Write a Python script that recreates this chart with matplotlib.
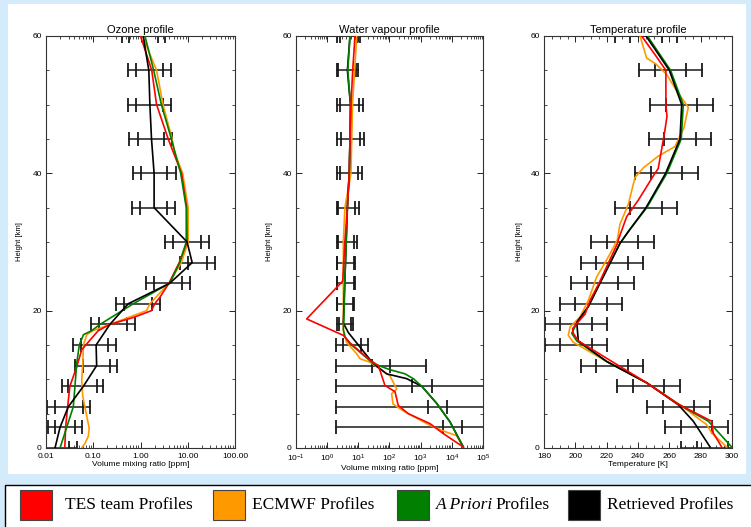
import matplotlib
matplotlib.use("Agg")
import matplotlib.pyplot as plt
from matplotlib.patches import Rectangle
from matplotlib.ticker import MultipleLocator, LogLocator, NullFormatter

plt.rcParams['font.family'] = ['Liberation Sans', 'DejaVu Sans']
plt.rcParams['mathtext.fontset'] = 'custom'
plt.rcParams['mathtext.rm'] = 'Liberation Sans'

# ---------------- ozone profile [ppm] ----------------
oz_h_tes = [0, 3, 6, 9, 11.8, 14.3, 15.7, 17.1, 18, 19, 20, 21, 22, 24, 27, 30, 35, 40, 45, 50, 55, 60]
oz_tes = [0.025, 0.026, 0.0287, 0.032, 0.0446, 0.057, 0.085, 0.128, 0.226, 0.7, 1.7, 2.0, 2.6, 4.0,
          6.6, 9.7, 9.5, 7.4, 3.86, 2.19, 1.73, 1.0]
oz_h_ecmwf = [0, 0.7, 1.7, 2.9, 4.6, 7.5, 9.9, 12.3, 15, 16.5, 17.1, 18, 20, 21, 24, 27, 30, 35, 40, 43, 45,
              50, 55, 60]
oz_ecmwf = [0.057, 0.067, 0.0785, 0.082, 0.073, 0.060, 0.057, 0.060, 0.062, 0.073, 0.10, 0.225, 1.34, 1.58,
            4.0, 7.3, 10.2, 10.2, 7.8, 5.3, 4.67, 3.0, 2.19, 1.1]
oz_h_apriori = [0, 3, 6, 9, 12.3, 15, 16.5, 17.1, 18, 21, 24, 27, 30, 35, 40, 45, 50, 55, 60]
oz_apriori = [0.0198, 0.0274, 0.0378, 0.041, 0.0446, 0.0507, 0.062, 0.093, 0.139, 0.70, 4.17, 6.75, 9.3,
              9.3, 7.1, 4.5, 2.77, 1.9, 1.24]
oz_h_ret = [0, 3, 6, 9, 12, 15, 18, 21, 24, 27, 30, 35, 40, 45, 50, 55, 60]
oz_ret = [0.0155, 0.0198, 0.0296, 0.062, 0.118, 0.115, 0.225, 0.548, 4.17, 12.4, 9.69, 1.94, 1.94, 1.71,
          1.58, 1.50, 1.14]
# error bars: outer low, inner low, inner high, outer high
oz_bar_h = [0, 3, 6, 9, 12, 15, 18, 21, 24, 27, 30, 35, 40, 45, 50, 55, 60]
oz_bar_lo2 = [0.004, 0.0108, 0.0103, 0.0215, 0.041, 0.0378, 0.0893, 0.296, 1.30, 7.0, 3.37, 0.646, 0.678,
              0.577, 0.531, 0.531, 0.40]
oz_bar_lo1 = [0.0075, 0.0155, 0.0155, 0.0296, 0.060, 0.054, 0.134, 0.445, 1.91, 10.2, 4.90, 0.968, 1.02,
              0.865, 0.796, 0.796, 0.58]
oz_bar_hi1 = [0.030, 0.041, 0.0616, 0.118, 0.226, 0.208, 0.506, 1.76, 7.59, 25.6, 19.4, 3.72, 3.72, 3.11,
              3.01, 3.01, 2.29]
oz_bar_hi2 = [0.045, 0.057, 0.085, 0.164, 0.324, 0.30, 0.759, 2.65, 11.0, 38.4, 28.2, 5.49, 5.57, 4.67,
              4.37, 4.37, 3.37]

# ---------------- water vapour profile [ppm] ----------------
wv_h_tes = [0.15, 2.1, 3.55, 5.0, 6.2, 8.2, 9.1, 12.0, 12.8, 15.3, 16.4, 18.8, 24.3, 30, 35, 40, 50, 55, 60]
wv_tes = [23300, 5320, 1990, 400, 191, 150, 71.6, 43.8, 23.6, 5.4, 3.3, 0.22, 3.15, 3.7, 4.45, 5.1, 5.8,
          6.6, 7.8]
wv_h_ecmwf = [0.15, 1.8, 2.3, 3.3, 5.4, 6.4, 7.9, 8.6, 10.5, 12.5, 13.0, 13.7, 15.4, 17.2, 20, 24, 30, 35,
              40, 50, 60]
wv_ecmwf = [23300, 14300, 6840, 1990, 277, 130, 117, 170, 104, 23.6, 11.3, 8.9, 4.2, 3.3, 3.3, 3.3, 3.3,
            3.7, 5.8, 6.5, 8.9]
wv_h_apriori = [0.15, 3.8, 6.5, 9.0, 10.1, 10.8, 11.4, 12.3, 15.2, 16.2, 17.2, 20, 24.5, 35, 40, 45, 50,
                55, 60]
wv_apriori = [23300, 8730, 3270, 1080, 581, 314, 104, 30, 5.4, 3.7, 3.3, 3.5, 3.7, 4.45, 5.1, 5.4, 5.6,
              4.6, 5.4]
wv_h_ret = [0.15, 3.8, 6.5, 9.0, 10.1, 10.8, 12.3, 16.8, 18.2, 24.5, 35, 40, 45, 50, 55, 60]
wv_ret = [23300, 8730, 3270, 1080, 355, 81, 30, 4.8, 3.3, 3.7, 4.45, 5.1, 5.4, 5.6, 4.45, 5.4]
wv_bar_h = [3, 6, 9, 12, 15, 18, 21, 24, 27, 30, 35, 40, 45, 50, 55, 60]
wv_bar_lo2 = [1.92, 1.92, 1.92, 1.92, 1.92, 2.0, 2.0, 2.0, 2.0, 2.0, 2.0, 2.0, 2.0, 2.0, 2.0, 2.0]
wv_bar_lo1 = [5320, 1758, 515, 26.8, 3.15, 2.4, 2.1, 2.1, 2.1, 2.3, 2.3, 2.6, 2.7, 2.6, 2.3, 2.5]
wv_bar_hi1 = [20700, 6839, 2259, 104, 11.9, 5.8, 6.5, 7.0, 7.0, 7.0, 7.8, 10.0, 11.3, 10.7, 8.4, 8.9]
wv_bar_hi2 = [2e5, 2e5, 2e5, 1482, 20.9, 6.5, 7.4, 7.8, 7.8, 8.9, 10.7, 12.8, 15.2, 14.4, 10.0, 11.3]

# ---------------- temperature profile [K] ----------------
t_h_tes = [0.15, 2.2, 3.9, 6.5, 9.5, 15.6, 16.7, 17.4, 18.1, 19.5, 21.5, 24, 26.4, 29.8, 30.3, 33.7, 36.1,
           40, 40.7, 44.3, 46.3, 48.3, 50, 55, 57.3, 60]
t_tes = [293.4, 288, 287, 264.7, 245.5, 201.9, 198.7, 198.3, 200.9, 206.2, 209.4, 215.1, 220, 226.9, 227.4,
         232.8, 240.2, 250.8, 252.9, 255.7, 257.2, 258.5, 257.8, 257.8, 250.8, 242.3]
t_h_ecmwf = [0.15, 2.2, 3.4, 6.3, 9.5, 12.6, 15.4, 16.4, 17.6, 19.1, 21.5, 24.9, 27.8, 30.3, 32.6, 35.5,
             39.4, 40.8, 42.5, 43.9, 46.6, 49.6, 52.0, 54.4, 55.9, 56.8, 60]
t_ecmwf = [296.6, 287, 283.8, 266.8, 245.5, 220, 198.7, 195.5, 196.6, 203, 208.3, 213.6, 221, 226.8, 228.5,
           233.8, 238.1, 243.4, 252.9, 263.6, 269.3, 272.1, 264.7, 258.3, 251.5, 245.5, 241.3]
t_h_apriori = [0.15, 3.9, 6.3, 9.5, 12.6, 15.6, 16.7, 18.3, 20.6, 24, 26.9, 29.8, 31.7, 35, 40, 45, 50, 55,
               60]
t_apriori = [299.8, 284.9, 266.2, 245.5, 220, 200.9, 197.7, 201.2, 208.3, 215.7, 222.1, 228.5, 234.4,
             245.6, 258.4, 267.6, 268.9, 260.8, 246]
t_h_ret = [0.15, 3.9, 6.3, 9.5, 12.6, 15.6, 18.3, 20.6, 24, 26.9, 29.8, 31.7, 35, 40, 45, 50, 55, 60]
t_ret = [286, 275.3, 265.7, 245.5, 220, 201.9, 200.9, 208.3, 215.7, 222.1, 228.5, 234.4, 245.1, 257.6,
         266.8, 267.9, 260, 245.1]
t_bar_h = [0, 3, 6, 9, 12, 15, 18, 21, 24, 27, 30, 35, 40, 45, 50, 55, 60]
t_bar_c = [287.7, 277.4, 265.7, 246.6, 223.4, 200.5, 200.4, 210, 217.2, 223.4, 230, 245.1, 258.3, 266.8,
           267.9, 260.6, 245]
t_bar_in = 10
t_bar_out = 20

RED, ORANGE, GREEN, BLACK = '#ff0000', '#ff9900', '#007f00', '#000000'
legend_names = ['TES team Profiles', 'ECMWF Profiles', 'A Priori Profiles', 'Retrieved Profiles']

W, H = 751, 527
fig = plt.figure(figsize=(W / 100, H / 100), dpi=100)
fig.patch.set_facecolor('#d4ebfc')


def px_rect(x0, y0, x1, y1, **kw):
    # rectangle given in image pixels (origin top left)
    r = Rectangle((x0 / W, 1 - y1 / H), (x1 - x0) / W, (y1 - y0) / H, transform=fig.transFigure, **kw)
    fig.patches.append(r)


px_rect(8, 4, 746, 474, facecolor='white', edgecolor='none', zorder=-5)
px_rect(5, 485, 760, 540, facecolor='white', edgecolor='black', lw=1.0, zorder=-5)


def make_ax(x0, x1):
    return fig.add_axes([x0 / W, 1 - 448 / H, (x1 - x0) / W, 412 / H])


def draw_bars(ax, hs, lo2, lo1, hi1, hi2):
    for h, a, b, c, d in zip(hs, lo2, lo1, hi1, hi2):
        ax.plot([a, d], [h, h], color='#1a1a1a', lw=1.1, zorder=2)
        ax.plot([a, b, c, d], [h] * 4, ls='none', marker='|', ms=10, mew=1.3, color='#1a1a1a', zorder=2)


def style(ax, title, xlabel, ylab_x):
    ax.set_ylim(0, 60)
    ax.set_yticks([0, 20, 40, 60])
    ax.yaxis.set_minor_locator(MultipleLocator(5))
    ax.tick_params(which='both', direction='in', top=True, right=True, labelsize=6)
    ax.tick_params(axis='x', which='both', pad=3.5)
    ax.tick_params(axis='y', which='both', pad=3)
    ax.tick_params(which='major', length=4, width=0.6)
    ax.tick_params(which='minor', length=2, width=0.5)
    ax.set_title(title, fontsize=8, pad=2)
    ax.set_xlabel(xlabel, fontsize=6, labelpad=0.5)
    ax.set_ylabel('Height [km]', fontsize=5.5)
    ax.yaxis.set_label_coords(ylab_x, 0.5)
    for s in ax.spines.values():
        s.set_linewidth(0.8)
        s.set_color('#333333')


def draw_profiles(ax, data):
    for h, v, c in data:
        ax.plot(v, h, color=c, lw=1.2, zorder=3)


# ozone
ax1 = make_ax(46, 235)
ax1.set_xscale('log')
ax1.set_xlim(0.01, 100)
draw_bars(ax1, oz_bar_h, oz_bar_lo2, oz_bar_lo1, oz_bar_hi1, oz_bar_hi2)
draw_profiles(ax1, [(oz_h_ecmwf, oz_ecmwf, ORANGE), (oz_h_tes, oz_tes, RED),
                    (oz_h_apriori, oz_apriori, GREEN), (oz_h_ret, oz_ret, BLACK)])
ax1.set_xticks([0.01, 0.1, 1, 10, 100])
ax1.set_xticklabels(['0.01', '0.10', '1.00', '10.00', '100.00'])
ax1.xaxis.set_minor_locator(LogLocator(base=10, subs=range(2, 10), numticks=20))
ax1.xaxis.set_minor_formatter(NullFormatter())
style(ax1, 'Ozone profile', 'Volume mixing ratio [ppm]', -0.12)

# water vapour
ax2 = make_ax(296, 483)
ax2.set_xscale('log')
ax2.set_xlim(0.1, 1e5)
draw_bars(ax2, wv_bar_h, wv_bar_lo2, wv_bar_lo1, wv_bar_hi1, wv_bar_hi2)
draw_profiles(ax2, [(wv_h_ecmwf, wv_ecmwf, ORANGE), (wv_h_ret, wv_ret, BLACK),
                    (wv_h_apriori, wv_apriori, GREEN), (wv_h_tes, wv_tes, RED)])
ax2.xaxis.set_major_locator(LogLocator(base=10, numticks=20))
ax2.xaxis.set_minor_locator(LogLocator(base=10, subs=range(2, 10), numticks=20))
ax2.xaxis.set_minor_formatter(NullFormatter())
style(ax2, 'Water vapour profile', 'Volume mixing ratio [ppm]', -0.123)

# temperature
ax3 = make_ax(544, 732)
ax3.set_xlim(180, 300)
tb_lo2 = [c - t_bar_out for c in t_bar_c]
tb_lo1 = [c - t_bar_in for c in t_bar_c]
tb_hi1 = [c + t_bar_in for c in t_bar_c]
tb_hi2 = [c + t_bar_out for c in t_bar_c]
draw_bars(ax3, t_bar_h, tb_lo2, tb_lo1, tb_hi1, tb_hi2)
draw_profiles(ax3, [(t_h_ecmwf, t_ecmwf, ORANGE), (t_h_apriori, t_apriori, GREEN),
                    (t_h_ret, t_ret, BLACK), (t_h_tes, t_tes, RED)])
ax3.set_xticks(range(180, 301, 20))
ax3.xaxis.set_minor_locator(MultipleLocator(5))
style(ax3, 'Temperature profile', 'Temperature [K]', -0.11)

# legend strip
sw_x = [20, 213, 397, 568]
txt_x = [65, 252, 436, 607]
for x, tx, c, name in zip(sw_x, txt_x, [RED, ORANGE, GREEN, BLACK], legend_names):
    px_rect(x, 490, x + 32, 520, facecolor=c, edgecolor='#444444', lw=0.8, zorder=1)
    if name.startswith('A Priori'):
        fig.text(tx / W, 1 - 505 / H, 'A Priori', family='Liberation Serif', style='italic',
                 fontsize=12.5, va='center', ha='left')
        fig.text((tx + 59) / W, 1 - 505 / H, 'Profiles', family='Liberation Serif',
                 fontsize=12.5, va='center', ha='left')
    else:
        fig.text(tx / W, 1 - 505 / H, name, family='Liberation Serif', fontsize=12.5,
                 va='center', ha='left')

fig.savefig('out.png', dpi=100, facecolor=fig.get_facecolor())
